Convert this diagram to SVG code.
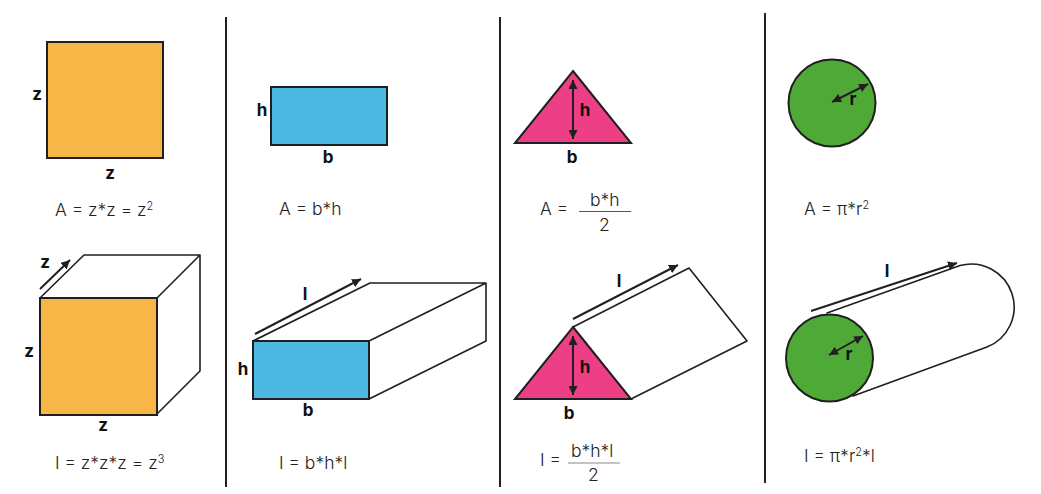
<svg xmlns="http://www.w3.org/2000/svg" width="1041" height="494" viewBox="0 0 1041 494">
<style>
.s{stroke:#1f1f1f;stroke-width:2;stroke-linejoin:miter}
.o{fill:none;stroke:#1f1f1f;stroke-width:1.6;stroke-linejoin:round;stroke-linecap:round}
.d{stroke:#231f20;stroke-width:2;fill:none}
.a{stroke:#231f20;stroke-width:2;fill:none;marker-end:url(#h)}
.b{stroke:#231f20;stroke-width:2;fill:none;marker-start:url(#hs);marker-end:url(#h)}
.l{font-family:"Inter","Liberation Sans",sans-serif;font-weight:700;font-size:17px;fill:#111;text-anchor:middle}
.f{font-family:"Inter","Liberation Sans",sans-serif;font-weight:300;font-size:17.500px;fill:#222}
.u{font-size:11px}
.y{fill:#f8b646}.c{fill:#4bb9e2}.p{fill:#ed3f86}.g{fill:#4fa936}
</style>
<defs>
<marker id="h" markerUnits="userSpaceOnUse" markerWidth="10" markerHeight="9" refX="9" refY="4.500" orient="auto"><path d="M0 0L9 4.500L0 9Z" fill="#231f20"/></marker>
<marker id="hs" markerUnits="userSpaceOnUse" markerWidth="10" markerHeight="9" refX="0" refY="4.500" orient="auto"><path d="M9 0L0 4.500L9 9Z" fill="#231f20"/></marker>
</defs>
<g id="connectors">
<line class="d" x1="226" y1="17" x2="226" y2="487"/>
<line class="d" x1="500" y1="17" x2="500" y2="487"/>
<line class="d" x1="765" y1="13" x2="765" y2="483"/>
</g>
<g id="square">
<rect class="s y" x="47" y="42" width="116" height="116"/>
<text class="l" x="37" y="100">z</text><text class="l" x="110" y="179">z</text>
<text class="f" x="55" y="216">A = z*z = z<tspan class="u" dy="-6">2</tspan></text>
</g>
<g id="rectangle">
<rect class="s c" x="271" y="87" width="116" height="58"/>
<text class="l" x="262" y="116">h</text><text class="l" x="328" y="163">b</text>
<text class="f" x="279" y="215">A = b*h</text>
</g>
<g id="triangle">
<path class="s p" d="M573 71L631 143H515Z"/>
<path class="b" d="M573 80V139"/>
<text class="l" x="585" y="116">h</text><text class="l" x="572" y="163">b</text>
<text class="f" x="540" y="215">A =</text>
<text class="f" x="590" y="206">b*h</text>
<line x1="579" y1="211.500" x2="631" y2="211.500" stroke="#555"/>
<text class="f" x="599" y="231">2</text>
</g>
<g id="circle">
<circle class="s g" cx="832" cy="103" r="43.500"/>
<path class="b" d="M832 102L868 84"/>
<text class="l" x="853" y="105">r</text>
<text class="f" x="804" y="215">A = π*r<tspan class="u" dy="-6">2</tspan></text>
</g>
<g id="cube">
<path class="o" d="M40 298L84 255H200L157 298M200 255V371L157 414"/>
<rect class="s y" x="40" y="298" width="117" height="117"/>
<path class="a" d="M40 289L70 260"/>
<text class="l" x="45" y="268">z</text><text class="l" x="29" y="357">z</text><text class="l" x="103" y="431">z</text>
<text class="f" x="55" y="469">I = z*z*z = z<tspan class="u" dy="-6">3</tspan></text>
</g>
<g id="prism">
<path class="o" d="M253 341L370 283H486L369 341M486 283V341L369 399"/>
<rect class="s c" x="253" y="341" width="116" height="58"/>
<path class="a" d="M255 334L361 279"/>
<text class="l" x="305" y="300">l</text><text class="l" x="243" y="375">h</text><text class="l" x="308" y="416">b</text>
<text class="f" x="279" y="469">I = b*h*l</text>
</g>
<g id="triangular-prism">
<path class="o" d="M573 327L689 268L747 341L631 399"/>
<path class="s p" d="M573 327L631 399H515Z"/>
<path class="b" d="M573 336V395"/>
<path class="a" d="M573 319L678 265"/>
<text class="l" x="619" y="287">l</text><text class="l" x="585" y="373">h</text><text class="l" x="569" y="419">b</text>
<text class="f" x="540" y="466">I =</text>
<text class="f" x="571" y="457">b*h*l</text>
<line x1="568" y1="463" x2="620" y2="463" stroke="#888"/>
<text class="f" x="588" y="481">2</text>
</g>
<g id="cylinder">
<path class="o" d="M827 313L960 265.500A43 43 0 0 1 987 347L853 396"/>
<circle class="s g" cx="829.500" cy="358" r="43.500"/>
<path class="b" d="M829 355L863 336"/>
<path class="a" d="M811 311L957 263"/>
<text class="l" x="887" y="277">l</text><text class="l" x="849" y="360">r</text>
<text class="f" x="804" y="462">I = π*r<tspan class="u" dy="-6">2</tspan><tspan dy="6">*l</tspan></text>
</g>
</svg>
